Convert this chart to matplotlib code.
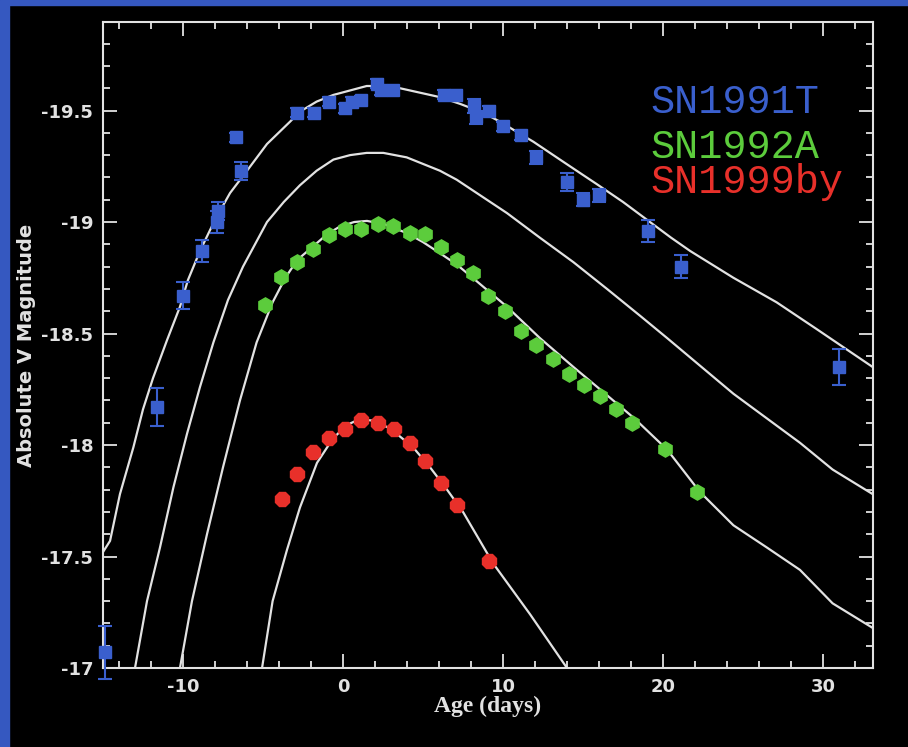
import numpy as np
import matplotlib
matplotlib.use('Agg')
import matplotlib.pyplot as plt
from matplotlib.ticker import MultipleLocator, FuncFormatter

plt.rcParams['axes.unicode_minus'] = False

# SN1991T observed points (age in days, absolute V mag, error)
t91_day = [-14.86, -11.6, -10.0, -8.8, -7.9, -7.8, -6.7, -6.4, -2.9, -1.84, -0.87, 0.14, 0.54, 1.12,
           2.13, 2.4, 3.1, 6.3, 7.05, 8.17, 8.3, 9.15, 10.0, 11.1, 12.08, 14.03, 15.0, 16.0, 19.06, 21.1, 31.0]
t91_mag = [-17.07, -18.17, -18.67, -18.87, -19.0, -19.05, -19.38, -19.23, -19.49, -19.49, -19.54, -19.51, -19.54, -19.545,
           -19.62, -19.59, -19.59, -19.57, -19.57, -19.52, -19.47, -19.50, -19.43, -19.39, -19.29, -19.18, -19.10, -19.12,
           -18.96, -18.80, -18.35]
t91_err = [0.12, 0.085, 0.06, 0.05, 0.05, 0.04, 0.02, 0.04, 0.02, 0.02, 0.02, 0.02, 0.02, 0.02,
           0.02, 0.02, 0.02, 0.02, 0.02, 0.03, 0.03, 0.02, 0.02, 0.02, 0.03, 0.04, 0.03, 0.03, 0.05, 0.05, 0.08]

# SN1992A
a92_day = [-4.88, -3.9, -2.86, -1.88, -0.87, 0.14, 1.12, 2.2, 3.15, 4.16, 5.1, 6.1, 7.1, 8.14, 9.08, 10.1,
           11.1, 12.08, 13.1, 14.1, 15.05, 16.06, 17.04, 18.05, 20.1, 22.1]
a92_mag = [-18.63, -18.755, -18.82, -18.88, -18.94, -18.97, -18.97, -18.99, -18.98, -18.95, -18.945, -18.89, -18.83,
           -18.77, -18.67, -18.60, -18.51, -18.45, -18.385, -18.32, -18.27, -18.22, -18.16, -18.10, -17.98, -17.79]

# SN1999by
b99_day = [-3.8, -2.86, -1.88, -0.87, 0.1, 1.12, 2.17, 3.2, 4.16, 5.1, 6.15, 7.1, 9.15]
b99_mag = [-17.76, -17.87, -17.97, -18.03, -18.07, -18.11, -18.10, -18.07, -18.01, -17.93, -17.83, -17.73, -17.48]

# template light curves
curveA_day = [-15.0, -14.56, -13.94, -13.1, -12.5, -11.875, -11.0, -10.19, -9.69, -8.94, -8.0, -7.06, -6.0, -4.75,
              -3.31, -2.69, -1.65, -0.6, 0.44, 1.48, 2.52, 3.56, 4.81, 6.06, 7.31, 8.77, 9.81, 10.85, 11.9, 13.56,
              15.02, 15.86, 17.5, 19.0, 20.5, 21.7, 24.4, 27.1, 29.6, 33.1]
curveA_mag = [-17.52, -17.57, -17.78, -17.99, -18.16, -18.30, -18.47, -18.62, -18.74, -18.87, -19.01, -19.13, -19.23,
              -19.35, -19.45, -19.495, -19.54, -19.57, -19.59, -19.61, -19.61, -19.60, -19.58, -19.56, -19.53, -19.49,
              -19.45, -19.405, -19.36, -19.28, -19.21, -19.17, -19.09, -19.01, -18.93, -18.87, -18.75, -18.64, -18.52,
              -18.35]

curveB_day = [-13.0, -12.25, -11.44, -10.6, -9.75, -8.94, -8.1, -7.19, -6.25, -4.75, -3.7, -2.69, -1.65, -0.6, 0.44,
              1.48, 2.52, 3.98, 5.02, 6.06, 7.1, 8.15, 10.25, 12.3, 14.4, 16.5, 18.56, 20.25, 24.4, 28.56, 30.6, 33.1]
curveB_mag = [-17.0, -17.30, -17.54, -17.81, -18.05, -18.26, -18.46, -18.65, -18.80, -19.00, -19.09, -19.165, -19.23,
              -19.28, -19.30, -19.31, -19.31, -19.29, -19.26, -19.23, -19.19, -19.14, -19.04, -18.93, -18.82, -18.70,
              -18.58, -18.48, -18.23, -18.01, -17.89, -17.78]

curveC_day = [-10.19, -9.44, -8.5, -7.5, -6.44, -5.4, -4.4, -3.6, -2.86, -1.88, -1.0, -0.19, 0.7, 1.5, 2.6, 4.0, 5.0,
              6.06, 7.1, 8.1, 10.25, 12.3, 14.4, 16.06, 18.2, 20.25, 22.3, 24.4, 26.5, 28.56, 30.6, 33.1]
curveC_mag = [-17.0, -17.30, -17.60, -17.90, -18.20, -18.46, -18.64, -18.75, -18.83, -18.89, -18.945, -18.98, -19.0,
              -19.005, -18.99, -18.95, -18.91, -18.86, -18.81, -18.75, -18.62, -18.48, -18.35, -18.25, -18.12, -17.98,
              -17.79, -17.64, -17.54, -17.44, -17.29, -17.18]

curveD_day = [-5.06, -4.4, -3.5, -2.69, -1.625, -0.62, 0.25, 1.0, 1.8, 2.94, 4.375, 5.44, 6.5, 7.5, 9.375, 11.7, 14.0]
curveD_mag = [-17.0, -17.30, -17.53, -17.72, -17.92, -18.03, -18.09, -18.115, -18.11, -18.075, -17.99, -17.90, -17.80,
              -17.70, -17.47, -17.24, -17.0]

blue = '#3a5fcd'
green = '#5ccc3c'
red = '#e8302a'
fg = '#e2e2e2'

fig = plt.figure(figsize=(9.08, 7.47), dpi=100, facecolor='black')
# blue frame strips on the left and top of the picture
fig.patches.append(plt.Rectangle((0, 0), 9 / 908, 1, transform=fig.transFigure, color='#3558c0', zorder=-5))
fig.patches.append(plt.Rectangle((0, 1 - 5 / 747), 1, 5 / 747, transform=fig.transFigure, color='#3558c0', zorder=-5))

ax = fig.add_axes([103 / 908, 1 - 668 / 747, 770 / 908, 646 / 747])
ax.set_facecolor('black')

for d, m in [(curveA_day, curveA_mag), (curveB_day, curveB_mag), (curveC_day, curveC_mag), (curveD_day, curveD_mag)]:
    ax.plot(d, m, color=fg, lw=1.6, zorder=2, solid_joinstyle='round')

ax.errorbar(t91_day, t91_mag, yerr=t91_err, fmt='s', color=blue, ms=9, capsize=5, elinewidth=1.5,
            capthick=1.5, zorder=3, clip_on=False)
ax.plot(a92_day, a92_mag, 'h', color=green, ms=11, zorder=3)
ax.plot(b99_day, b99_mag, '8', color=red, ms=11, zorder=3)

ax.set_xlim(-15, 33.125)
ax.set_ylim(-17, -19.897)

ax.xaxis.set_major_locator(MultipleLocator(10))
ax.xaxis.set_minor_locator(MultipleLocator(2))
ax.yaxis.set_major_locator(MultipleLocator(0.5))
ax.yaxis.set_minor_locator(MultipleLocator(0.1))
ax.yaxis.set_major_formatter(FuncFormatter(lambda v, p: ('%g' % v)))

ax.tick_params(which='both', direction='in', top=True, right=True, colors=fg, width=1.3)
ax.tick_params(which='major', length=10, labelsize=13, pad=7)
ax.tick_params(which='minor', length=5)
for lab in ax.get_xticklabels() + ax.get_yticklabels():
    lab.set_fontweight('bold')
    lab.set_color(fg)
for s in ax.spines.values():
    s.set_color(fg)
    s.set_linewidth(1.5)

ax.set_xlabel('Age (days)', color=fg, fontsize=17, fontweight='bold', family='Liberation Serif', labelpad=0)
ax.set_ylabel('Absolute V Magnitude', color=fg, fontsize=14, fontweight='bold', labelpad=4)

ax.text(0.711, 0.859, 'SN1991T', color=blue, fontsize=29, family='Liberation Mono', transform=ax.transAxes,
        va='baseline', ha='left')
ax.text(0.711, 0.789, 'SN1992A', color=green, fontsize=29, family='Liberation Mono', transform=ax.transAxes,
        va='baseline', ha='left')
ax.text(0.711, 0.735, 'SN1999by', color=red, fontsize=29, family='Liberation Mono', transform=ax.transAxes,
        va='baseline', ha='left')

plt.savefig('out.png', dpi=100, facecolor='black')
